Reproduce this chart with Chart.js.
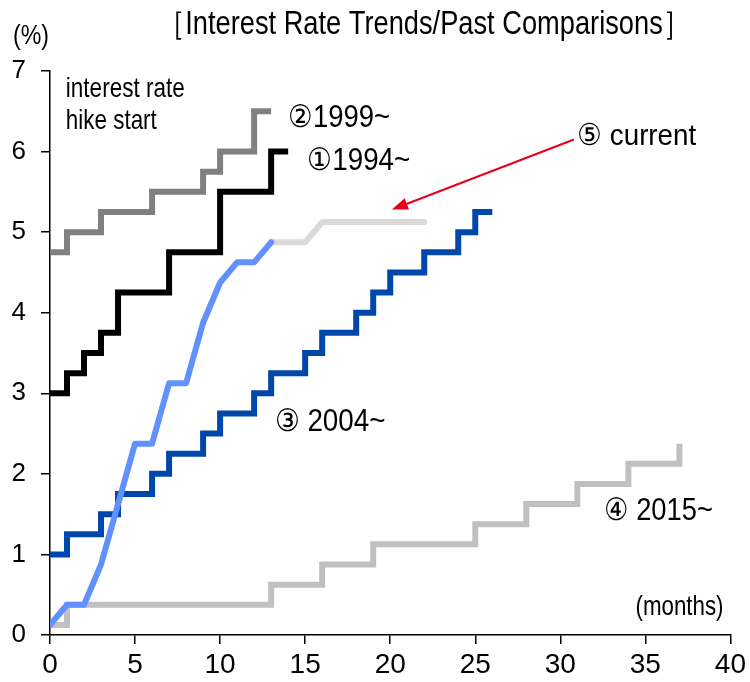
<!DOCTYPE html>
<html>
<head>
<meta charset="utf-8">
<script src="https://cdn.jsdelivr.net/npm/chart.js@4"></script>
<style>
  html, body { margin: 0; padding: 0; background: #fff; }
</style>
</head>
<body>
<canvas id="chart" width="750" height="682"></canvas>
<script>
// monthly policy rate (%) from the start of each hiking cycle, index = months
var rate1994 = [3, 3.25, 3.5, 3.75, 4.25, 4.25, 4.25, 4.75, 4.75, 4.75, 5.5, 5.5, 5.5, 6, 6];
var rate1999 = [4.75, 5, 5, 5.25, 5.25, 5.25, 5.5, 5.5, 5.5, 5.75, 6, 6, 6.5, 6.5];
var rate2004 = [1, 1.25, 1.25, 1.5, 1.75, 1.75, 2, 2.25, 2.25, 2.5, 2.75, 2.75, 3, 3.25, 3.25,
  3.5, 3.75, 3.75, 4, 4.25, 4.5, 4.5, 4.75, 4.75, 5, 5.25, 5.25];
var rate2015 = [0.125, 0.375, 0.375, 0.375, 0.375, 0.375, 0.375, 0.375, 0.375, 0.375, 0.375, 0.375, 0.375,
  0.625, 0.625, 0.625, 0.875, 0.875, 0.875, 1.125, 1.125, 1.125, 1.125, 1.125, 1.125,
  1.375, 1.375, 1.375, 1.625, 1.625, 1.625, 1.875, 1.875, 1.875, 2.125, 2.125, 2.125, 2.375];
var rateCurrent = [0.125, 0.375, 0.375, 0.875, 1.625, 2.375, 2.375, 3.125, 3.125, 3.875, 4.375, 4.625, 4.625, 4.875];
// projected path, starts at month 13
var projStart = 13;
var rateProjected = [4.875, 4.875, 4.875, 5.125, 5.125, 5.125, 5.125, 5.125, 5.125, 5.125];

var xTicks = [0, 5, 10, 15, 20, 25, 30, 35, 40];
var yTicks = [0, 1, 2, 3, 4, 5, 6, 7];

function toPoints(values, start) {
  start = start || 0;
  return values.map(function (v, i) { return { x: start + i, y: v }; });
}

var FONT = "'Liberation Sans', Arial, sans-serif";

// text labels: x = left edge, y = baseline (data units); w = target width in px (narrow face)
var notes = [
  { text: "interest rate", x: 0.93, y: 6.68, size: 28, w: 119 },
  { text: "hike start", x: 0.93, y: 6.28, size: 28, w: 91 },
  { text: "\u24611999~", x: 14.0, y: 6.31, size: 31, w: 102 },
  { text: "\u24601994~", x: 15.12, y: 5.77, size: 31, w: 103 },
  { text: "\u2464 current", x: 30.99, y: 6.08, size: 30, w: 119 },
  { text: "\u2462 2004~", x: 13.2, y: 2.53, size: 31, w: 111 },
  { text: "\u2463 2015~", x: 32.56, y: 1.43, size: 31, w: 109 },
  { text: "(months)", x: 34.42, y: 0.25, size: 28, w: 88 }
];

function narrowText(ctx, text, left, base, size, w) {
  ctx.font = size + "px " + FONT;
  var sx = w / ctx.measureText(text).width;
  ctx.save();
  ctx.translate(left, base);
  ctx.scale(sx, 1);
  ctx.fillText(text, 0, 0);
  ctx.restore();
}

var annotations = {
  id: "annotations",
  afterDatasetsDraw: function (chart) {
    var ctx = chart.ctx;
    var xs = chart.scales.x, ys = chart.scales.y;
    ctx.save();
    ctx.fillStyle = "#000";
    ctx.textBaseline = "alphabetic";
    ctx.textAlign = "left";
    notes.forEach(function (n) {
      narrowText(ctx, n.text, xs.getPixelForValue(n.x), ys.getPixelForValue(n.y), n.size, n.w);
    });

    // axis unit and title
    narrowText(ctx, "(%)", 13, 44, 28, 36);
    narrowText(ctx, "\uFF3BInterest Rate Trends/Past Comparisons\uFF3D", 158, 34, 33, 532);

    // red arrow pointing to the current path
    var x1 = xs.getPixelForValue(30.8), y1 = ys.getPixelForValue(6.15);
    var x2 = xs.getPixelForValue(20.1), y2 = ys.getPixelForValue(5.28);
    var ang = Math.atan2(y2 - y1, x2 - x1);
    ctx.strokeStyle = "#e8001c";
    ctx.fillStyle = "#e8001c";
    ctx.lineWidth = 2;
    ctx.beginPath();
    ctx.moveTo(x1, y1);
    ctx.lineTo(x2 - 10 * Math.cos(ang), y2 - 10 * Math.sin(ang));
    ctx.stroke();
    ctx.beginPath();
    ctx.moveTo(x2, y2);
    ctx.lineTo(x2 - 16 * Math.cos(ang) + 6 * Math.sin(ang), y2 - 16 * Math.sin(ang) - 6 * Math.cos(ang));
    ctx.lineTo(x2 - 16 * Math.cos(ang) - 6 * Math.sin(ang), y2 - 16 * Math.sin(ang) + 6 * Math.cos(ang));
    ctx.closePath();
    ctx.fill();
    ctx.restore();
  }
};

var ctx = document.getElementById("chart").getContext("2d");
var chart = new Chart(ctx, {
  type: "line",
  data: {
    datasets: [
      {
        label: "current",
        data: toPoints(rateCurrent),
        borderColor: "#6190ff",
        borderWidth: 6,
        borderCapStyle: "round",
        borderJoinStyle: "round",
        tension: 0,
        pointRadius: 0
      },
      {
        label: "current (projected)",
        data: toPoints(rateProjected, projStart),
        borderColor: "#d9d9d9",
        borderWidth: 6,
        borderCapStyle: "round",
        borderJoinStyle: "round",
        tension: 0,
        pointRadius: 0
      },
      {
        label: "1994~",
        data: toPoints(rate1994),
        borderColor: "#000000",
        borderWidth: 6,
        stepped: true,
        pointRadius: 0
      },
      {
        label: "1999~",
        data: toPoints(rate1999),
        borderColor: "#808080",
        borderWidth: 6,
        stepped: true,
        pointRadius: 0
      },
      {
        label: "2004~",
        data: toPoints(rate2004),
        borderColor: "#0047ab",
        borderWidth: 6,
        stepped: true,
        pointRadius: 0
      },
      {
        label: "2015~",
        data: toPoints(rate2015),
        borderColor: "#c0c0c0",
        borderWidth: 6,
        stepped: true,
        pointRadius: 0
      }
    ]
  },
  options: {
    responsive: false,
    animation: false,
    layout: { padding: { top: 71, right: 12, left: 0, bottom: 0 } },
    plugins: {
      legend: { display: false },
      tooltip: { enabled: false }
    },
    scales: {
      x: {
        type: "linear",
        min: 0,
        max: 40,
        afterFit: function (scale) { scale.height = 47; },
        afterBuildTicks: function (scale) { scale.ticks = xTicks.map(function (v) { return { value: v }; }); },
        border: { color: "#000", width: 1.5 },
        grid: { drawOnChartArea: false, color: "#000", tickLength: 9, lineWidth: 1.5 },
        ticks: { color: "#000", padding: 4, maxRotation: 0, font: { family: FONT, size: 28 } }
      },
      y: {
        min: 0,
        max: 7,
        afterFit: function (scale) { scale.width = 50; },
        afterBuildTicks: function (scale) { scale.ticks = yTicks.map(function (v) { return { value: v }; }); },
        border: { color: "#000", width: 1.5 },
        grid: { drawOnChartArea: false, color: "#000", tickLength: 9, lineWidth: 1.5 },
        ticks: { color: "#000", padding: 15, font: { family: FONT, size: 26 } }
      }
    }
  },
  plugins: [annotations]
});
</script>
</body>
</html>
